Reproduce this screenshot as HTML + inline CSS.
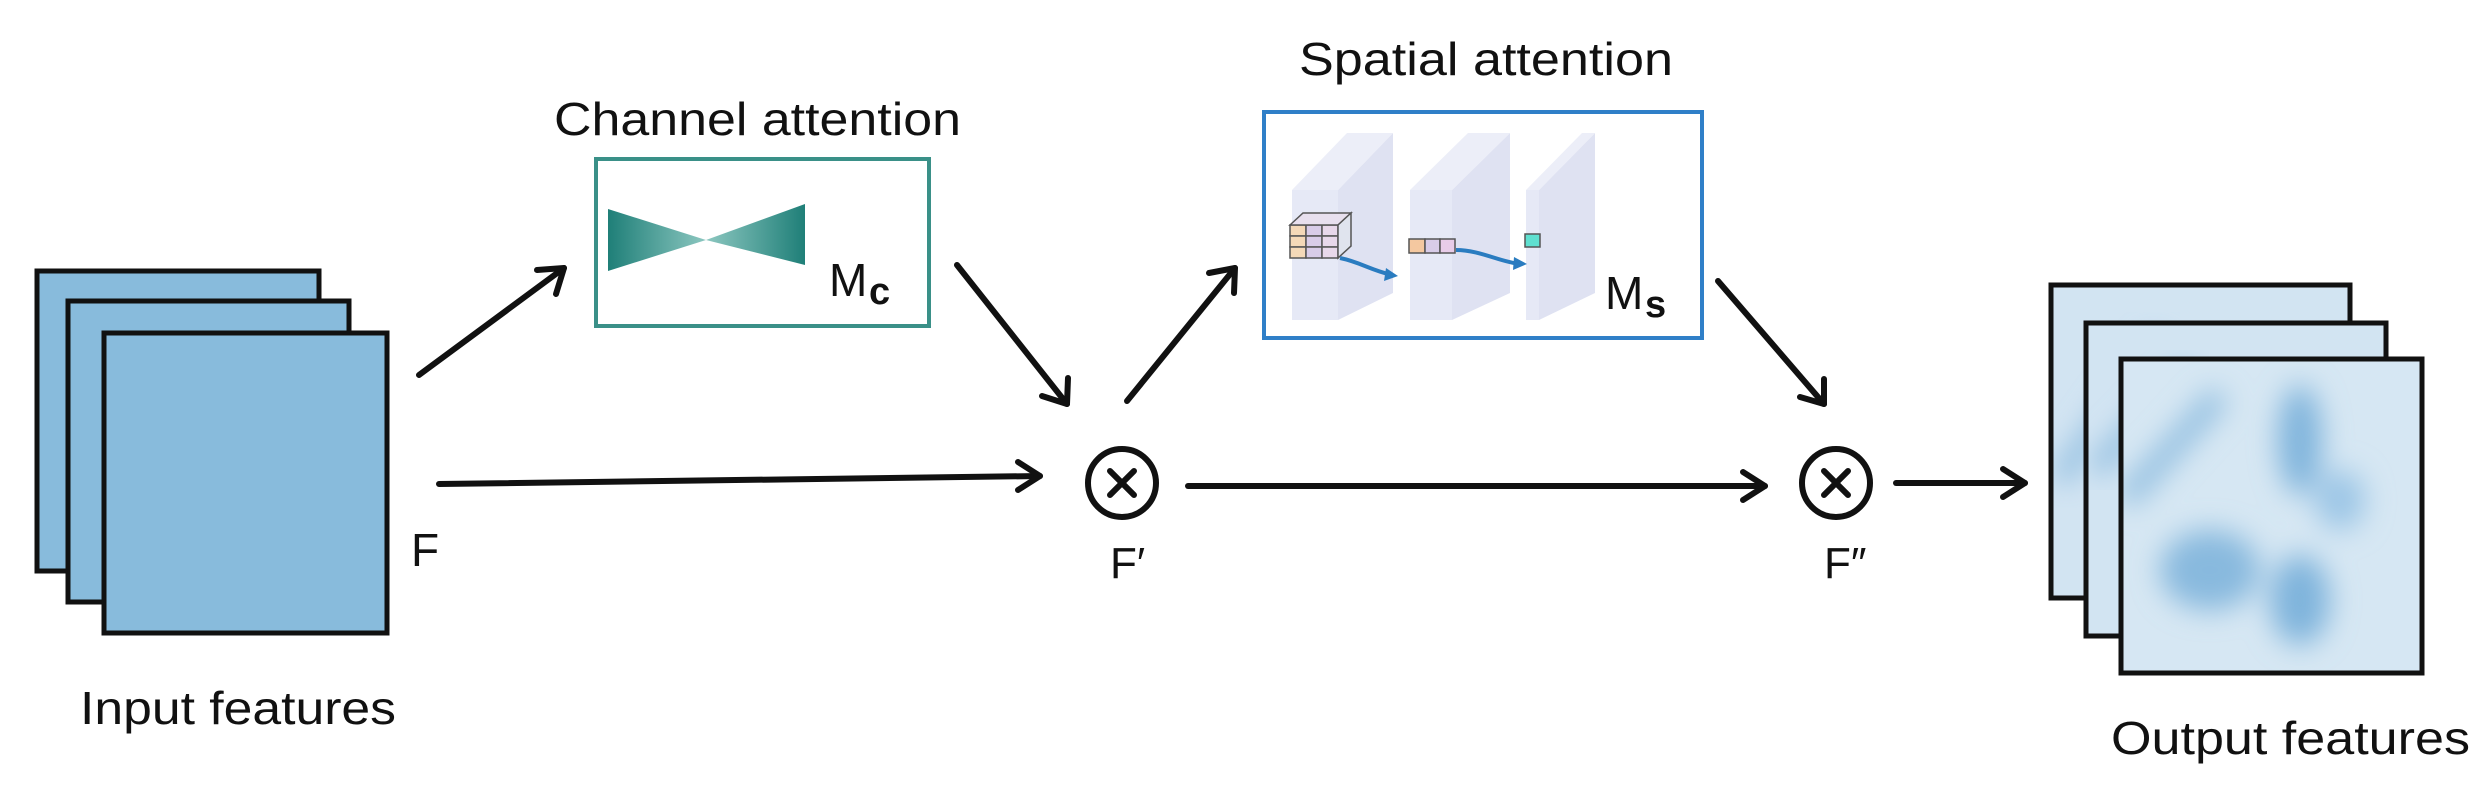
<!DOCTYPE html>
<html><head><meta charset="utf-8"><style>
html,body{margin:0;padding:0;background:#fff;}
svg{display:block;}
text{font-family:"Liberation Sans",sans-serif;fill:#111;}
</style></head><body>
<svg width="2492" height="787" viewBox="0 0 2492 787" xmlns="http://www.w3.org/2000/svg">
<defs>
<linearGradient id="tl" x1="0" x2="1" y1="0" y2="0"><stop offset="0" stop-color="#1f7f78"/><stop offset="1" stop-color="#8cc7c0"/></linearGradient>
<linearGradient id="tr" x1="1" x2="0" y1="0" y2="0"><stop offset="0" stop-color="#1f7f78"/><stop offset="1" stop-color="#8cc7c0"/></linearGradient>
<filter id="bl" x="-20%" y="-20%" width="140%" height="140%"><feGaussianBlur stdDeviation="14"/></filter>
<clipPath id="c1"><rect x="2051" y="285" width="299" height="313"/></clipPath>
<clipPath id="c2"><rect x="2086" y="323" width="300" height="313"/></clipPath>
<clipPath id="c3"><rect x="2121" y="359" width="301" height="314"/></clipPath>
</defs>

<g stroke="#111" stroke-width="5" fill="#88bbdc">
<rect x="37" y="271" width="282" height="300"/>
<rect x="68" y="301" width="281" height="301"/>
<rect x="104" y="333" width="283" height="300"/>
</g>
<text x="411" y="566" font-size="46">F</text>
<text x="80" y="724" font-size="46" textLength="316" lengthAdjust="spacingAndGlyphs">Input features</text>

<text x="554" y="135" font-size="46" textLength="407" lengthAdjust="spacingAndGlyphs">Channel attention</text>
<rect x="596" y="159" width="333" height="167" fill="#fff" stroke="#3a9088" stroke-width="4"/>
<polygon points="608,209 706,240 608,271" fill="url(#tl)"/>
<polygon points="805,204 706,240 805,265" fill="url(#tr)"/>
<text x="829" y="296" font-size="46">M</text><text x="869" y="304" font-size="38" font-weight="bold">c</text>

<g stroke="#111" stroke-width="6" fill="none" stroke-linecap="round" stroke-linejoin="round">
<line x1="419" y1="375" x2="564" y2="268"/><polyline points="537,270 564,268 556,294"/>
<line x1="957" y1="265" x2="1067" y2="404"/><polyline points="1042,396 1067,404 1068,378"/>
<line x1="439" y1="484" x2="1040" y2="476"/><polyline points="1018,462 1040,476 1018,490"/>
<line x1="1127" y1="401" x2="1235" y2="268"/><polyline points="1209,273 1235,268 1234,293"/>
<line x1="1188" y1="486" x2="1765" y2="486"/><polyline points="1743,472 1765,486 1743,500"/>
<line x1="1718" y1="281" x2="1824" y2="404"/><polyline points="1800,397 1824,404 1824,379"/>
<line x1="1896" y1="483" x2="2025" y2="483"/><polyline points="2003,469 2025,483 2003,497"/>
</g>

<g stroke="#111" stroke-width="6" fill="#fff">
<circle cx="1122" cy="483" r="34"/>
<circle cx="1836" cy="483" r="34"/>
</g>
<g stroke="#111" stroke-width="6" stroke-linecap="round">
<line x1="1110" y1="471" x2="1134" y2="495"/><line x1="1134" y1="471" x2="1110" y2="495"/>
<line x1="1824" y1="471" x2="1848" y2="495"/><line x1="1848" y1="471" x2="1824" y2="495"/>
</g>
<text x="1110" y="578" font-size="44">F′</text>
<text x="1824" y="578" font-size="44">F″</text>

<text x="1299" y="75" font-size="46" textLength="374" lengthAdjust="spacingAndGlyphs">Spatial attention</text>
<rect x="1264" y="112" width="438" height="226" fill="#fff" stroke="#2f7fc8" stroke-width="4"/>
<g>
<polygon points="1338,190 1393,133 1393,293 1338,320" fill="#dfe2f2"/>
<polygon points="1292,190 1338,190 1393,133 1347,133" fill="#eceef8"/>
<rect x="1292" y="190" width="46" height="130" fill="#e6e9f6"/>
<polygon points="1452,190 1510,133 1510,293 1452,320" fill="#dfe2f2"/>
<polygon points="1410,190 1452,190 1510,133 1468,133" fill="#eceef8"/>
<rect x="1410" y="190" width="42" height="130" fill="#e6e9f6"/>
<polygon points="1539,190 1595,133 1595,293 1539,320" fill="#dfe2f2"/>
<polygon points="1526,190 1539,190 1595,133 1582,133" fill="#eceef8"/>
<rect x="1526" y="190" width="13" height="130" fill="#e6e9f6"/>
</g>
<g stroke="#555" stroke-width="1.5">
<rect x="1290" y="225" width="16" height="11" fill="#f4d9b8"/><rect x="1306" y="225" width="16" height="11" fill="#d8cce8"/><rect x="1322" y="225" width="16" height="11" fill="#e8d8ea"/>
<rect x="1290" y="236" width="16" height="11" fill="#f4d9b8"/><rect x="1306" y="236" width="16" height="11" fill="#d8cce8"/><rect x="1322" y="236" width="16" height="11" fill="#e8d8ea"/>
<rect x="1290" y="247" width="16" height="11" fill="#f4d9b8"/><rect x="1306" y="247" width="16" height="11" fill="#d8cce8"/><rect x="1322" y="247" width="16" height="11" fill="#e8d8ea"/>
<polygon points="1290,225 1303,213 1351,213 1338,225" fill="#e8e0ee"/>
<polygon points="1338,225 1351,213 1351,246 1338,258" fill="#e0e4ee"/>
<rect x="1409" y="239" width="16" height="14" fill="#f4c8a0"/><rect x="1425" y="239" width="15" height="14" fill="#d8cce8"/><rect x="1440" y="239" width="15" height="14" fill="#e8cce8"/>
<rect x="1525" y="234" width="15" height="13" fill="#5fe0d0"/>
</g>
<g stroke="#2a7cc0" stroke-width="4" fill="none">
<path d="M1340,258 C1360,262 1370,270 1392,275"/><path d="M1456,250 C1480,250 1500,262 1520,264"/>
</g>
<polygon points="1386,268 1398,276 1384,281" fill="#2a7cc0"/>
<polygon points="1514,257 1527,264 1513,270" fill="#2a7cc0"/>
<text x="1605" y="309" font-size="46">M</text><text x="1645" y="317" font-size="38" font-weight="bold">s</text>

<g stroke="#111" stroke-width="5">
<rect x="2051" y="285" width="299" height="313" fill="#d2e4f2"/>
<g clip-path="url(#c1)" filter="url(#bl)"><line x1="2060" y1="480" x2="2160" y2="340" stroke="#8fbde0" stroke-width="20"/></g>
<rect x="2051" y="285" width="299" height="313" fill="none"/>
<rect x="2086" y="323" width="300" height="313" fill="#d2e4f2"/>
<g clip-path="url(#c2)" filter="url(#bl)"><line x1="2095" y1="470" x2="2190" y2="370" stroke="#8fbde0" stroke-width="20"/></g>
<rect x="2086" y="323" width="300" height="313" fill="none"/>
<rect x="2121" y="359" width="301" height="314" fill="#d6e7f3"/>
<g clip-path="url(#c3)" filter="url(#bl)" stroke="none">
<line x1="2125" y1="500" x2="2220" y2="395" stroke="#8fbde0" stroke-width="22"/>
<ellipse cx="2210" cy="570" rx="50" ry="40" fill="#88b9de"/>
<ellipse cx="2300" cy="440" rx="22" ry="55" fill="#7fb4dc"/>
<ellipse cx="2300" cy="600" rx="30" ry="45" fill="#7fb4dc"/>
<ellipse cx="2340" cy="500" rx="25" ry="30" fill="#9cc6e6"/>
</g>
<rect x="2121" y="359" width="301" height="314" fill="none"/>
</g>
<text x="2111" y="754" font-size="46" textLength="359" lengthAdjust="spacingAndGlyphs">Output features</text>
</svg>
</body></html>
